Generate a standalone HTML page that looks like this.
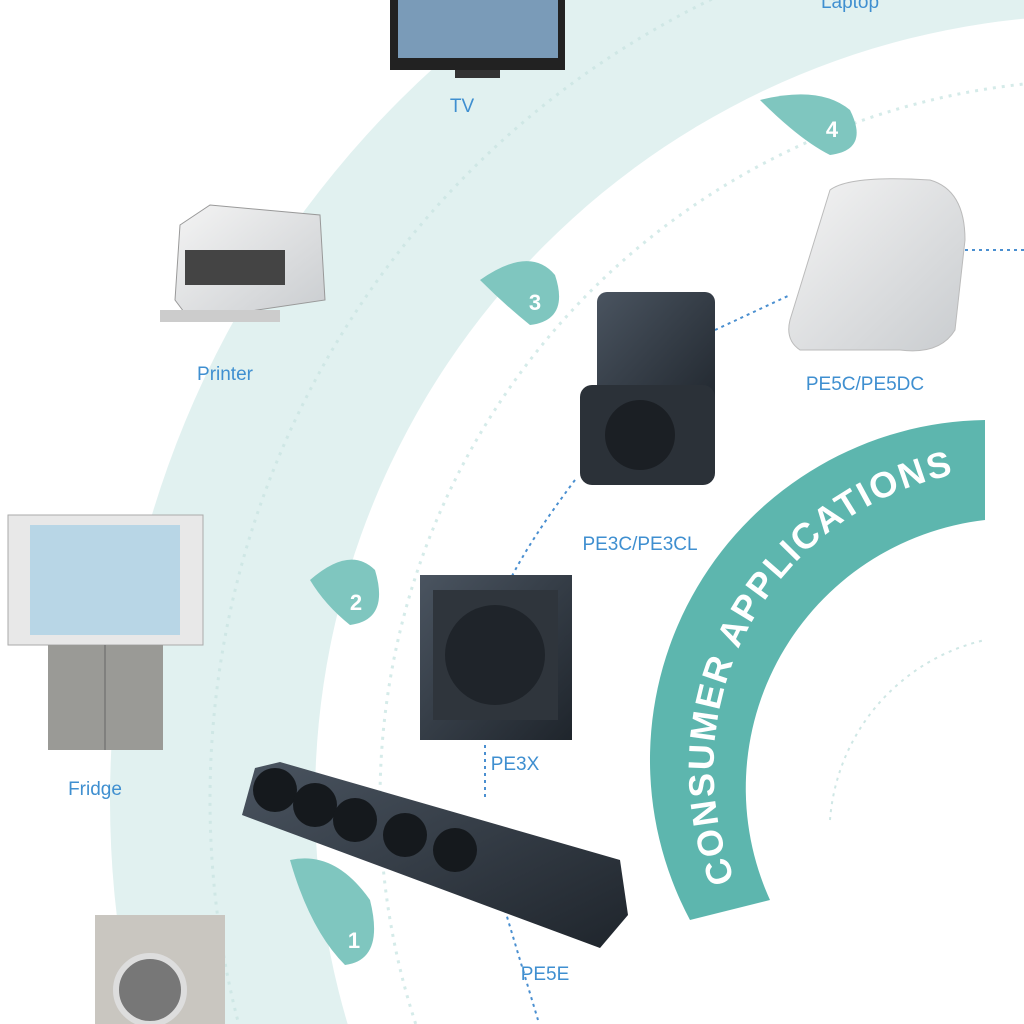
<!DOCTYPE html>
<html><head><meta charset="utf-8"><style>
html,body{margin:0;padding:0;width:1024px;height:1024px;overflow:hidden;background:#fff;font-family:"Liberation Sans",sans-serif}
svg{display:block}
</style></head><body>
<svg width="1024" height="1024" viewBox="0 0 1024 1024" xmlns="http://www.w3.org/2000/svg">
<defs>
<linearGradient id="dk" x1="0" y1="0" x2="1" y2="1"><stop offset="0" stop-color="#4a5460"/><stop offset="1" stop-color="#1f252c"/></linearGradient>
<linearGradient id="lt" x1="0" y1="0" x2="1" y2="1"><stop offset="0" stop-color="#f4f4f4"/><stop offset="1" stop-color="#c9cccf"/></linearGradient>
<path id="ca" d="M735,880 A300,300 0 0 1 985,470"/>
</defs>
<circle cx="1100" cy="800" r="990" fill="#e1f1f0"/>
<circle cx="1100" cy="800" r="785" fill="#fff"/>
<circle cx="1100" cy="800" r="890" fill="none" stroke="#cfe7e5" stroke-width="3" stroke-dasharray="3,6"/>
<circle cx="1100" cy="800" r="720" fill="none" stroke="#d5ebe9" stroke-width="3" stroke-dasharray="3,6"/>
<path d="M985,420 L985,520 A270,270 0 0 0 770,900 L690,920 A340,340 0 0 1 985,420 Z" fill="#5db6ae"/>
<text font-size="36" font-weight="bold" fill="#fff" letter-spacing="2"><textPath href="#ca">CONSUMER APPLICATIONS</textPath></text>
<path d="M830,820 A200,200 0 0 1 985,640" fill="none" stroke="#cfe7e5" stroke-width="2" stroke-dasharray="3,5"/>
<g fill="#7fc6bf">
<path d="M760,100 Q820,85 850,110 Q870,150 830,155 Q800,140 760,100Z"/>
<path d="M480,280 Q530,245 555,275 Q570,320 530,325 Q505,305 480,280Z"/>
<path d="M310,580 Q350,545 375,570 Q390,620 350,625 Q325,605 310,580Z"/>
<path d="M290,860 Q335,850 370,900 Q385,960 345,965 Q310,930 290,860Z"/>
</g>
<g fill="#fff" font-size="22" font-weight="bold" text-anchor="middle">
<text x="832" y="137">4</text><text x="535" y="310">3</text><text x="356" y="610">2</text><text x="354" y="948">1</text>
</g>
<g stroke="#4a8fd0" stroke-width="2" stroke-dasharray="3,4" fill="none">
<path d="M715,330 L790,295"/><path d="M965,250 L1024,250"/>
<path d="M575,480 Q530,540 510,580"/><path d="M485,745 L485,800"/><path d="M505,910 L538,1020"/>
</g>
<rect x="390" y="0" width="175" height="70" fill="#222"/><rect x="398" y="0" width="160" height="58" fill="#7a9bb8"/>
<rect x="455" y="70" width="45" height="8" fill="#333"/>
<path d="M180,225 L210,205 L320,215 L325,300 L190,320 L175,300Z" fill="url(#lt)" stroke="#999"/>
<rect x="185" y="250" width="100" height="35" fill="#444"/>
<rect x="160" y="310" width="120" height="12" fill="#ccc"/>
<rect x="8" y="515" width="195" height="130" fill="#e8e8e8" stroke="#aaa"/>
<rect x="30" y="525" width="150" height="110" fill="#b8d6e6"/>
<rect x="48" y="645" width="115" height="105" fill="#9a9a96"/>
<line x1="105" y1="645" x2="105" y2="750" stroke="#666"/>
<rect x="95" y="915" width="130" height="109" fill="#c9c6c0"/>
<circle cx="150" cy="990" r="34" fill="#777" stroke="#ddd" stroke-width="6"/>
<path d="M830,190 Q850,175 930,180 Q965,190 965,240 L955,330 Q940,355 900,350 L800,350 Q785,340 790,320Z" fill="url(#lt)" stroke="#bbb"/>
<rect x="597" y="292" width="118" height="130" rx="10" fill="url(#dk)"/>
<rect x="580" y="385" width="135" height="100" rx="12" fill="#2b3138"/>
<circle cx="640" cy="435" r="35" fill="#1b1f24"/>
<rect x="420" y="575" width="152" height="165" fill="url(#dk)"/>
<rect x="433" y="590" width="125" height="130" fill="#2f353c"/>
<circle cx="495" cy="655" r="50" fill="#1f242a"/>
<path d="M255,768 L280,762 L620,860 L628,915 L600,948 L242,815Z" fill="url(#dk)"/>
<g fill="#15191d"><circle cx="275" cy="790" r="22"/><circle cx="315" cy="805" r="22"/><circle cx="355" cy="820" r="22"/><circle cx="405" cy="835" r="22"/><circle cx="455" cy="850" r="22"/></g>
<g fill="#3f8fd0" font-size="19" text-anchor="middle">
<text x="850" y="8">Laptop</text>
<text x="462" y="112">TV</text>
<text x="225" y="380">Printer</text>
<text x="95" y="795">Fridge</text>
<text x="865" y="390">PE5C/PE5DC</text>
<text x="640" y="550">PE3C/PE3CL</text>
<text x="515" y="770">PE3X</text>
<text x="545" y="980">PE5E</text>
</g>
</svg>
</body></html>
